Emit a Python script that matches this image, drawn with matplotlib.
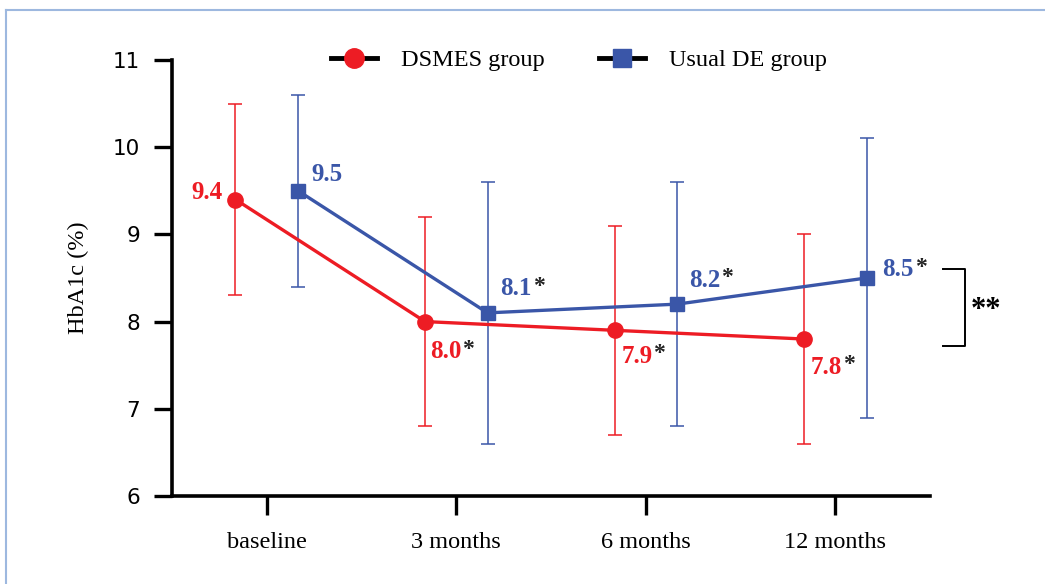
import matplotlib.pyplot as plt
from matplotlib.lines import Line2D

plt.rcParams['font.family'] = 'DejaVu Sans'

timepoints = ['baseline', '3 months', '6 months', '12 months']

dsmes_mean = [9.4, 8.0, 7.9, 7.8]
dsmes_low = [8.3, 6.8, 6.7, 6.6]
dsmes_high = [10.5, 9.2, 9.1, 9.0]
dsmes_labels = ['9.4', '8.0', '7.9', '7.8']
dsmes_star = ['', '*', '*', '*']

usual_mean = [9.5, 8.1, 8.2, 8.5]
usual_low = [8.4, 6.6, 6.8, 6.9]
usual_high = [10.6, 9.6, 9.6, 10.1]
usual_labels = ['9.5', '8.1', '8.2', '8.5']
usual_star = ['', '*', '*', '*']

red = '#ED1C24'
blue = '#3A56A8'
serif = 'Liberation Serif'

fig = plt.figure(figsize=(10.45, 5.84), dpi=100)
ax = fig.add_axes([0.1646, 0.1507, 0.7254, 0.7466])

x = list(range(len(timepoints)))
off = 0.165
xr = [i - off for i in x]
xb = [i + off for i in x]

ax.errorbar(xr, dsmes_mean,
            yerr=[[m - l for m, l in zip(dsmes_mean, dsmes_low)],
                  [h - m for m, h in zip(dsmes_mean, dsmes_high)]],
            color=red, lw=2.4, marker='o', ms=11, ecolor=red, elinewidth=1.1,
            capsize=5, capthick=1.1, zorder=3)
ax.errorbar(xb, usual_mean,
            yerr=[[m - l for m, l in zip(usual_mean, usual_low)],
                  [h - m for m, h in zip(usual_mean, usual_high)]],
            color=blue, lw=2.4, marker='s', ms=9.5, ecolor=blue, elinewidth=1.1,
            capsize=5, capthick=1.1, zorder=3)

# label offsets in pixels (ha, va centre)
red_off = [(-13, 7), (5, -30), (7, -26), (7, -28)]
blue_off = [(13, 16), (13, 24), (12, 24), (16, 8)]


def put_label(xp, yp, txt, star, dxy, col, ha):
    t = ax.annotate(txt, (xp, yp), xytext=dxy, textcoords='offset pixels',
                    color=col, fontsize=18, fontweight='bold', family=serif,
                    ha=ha, va='center')
    if star:
        ax.annotate(star, xy=(1, 1), xycoords=t, xytext=(0.5, 1),
                    textcoords='offset points', color='#222222', fontsize=17,
                    fontweight='bold', family=serif, va='top', ha='left')


for i in range(4):
    put_label(xr[i], dsmes_mean[i], dsmes_labels[i], dsmes_star[i], red_off[i],
              red, 'right' if i == 0 else 'left')
    put_label(xb[i], usual_mean[i], usual_labels[i], usual_star[i], blue_off[i],
              blue, 'left')

# significance bracket
ax.plot([3.57, 3.685, 3.685, 3.57], [8.6, 8.6, 7.72, 7.72], color='black',
        lw=1.4, clip_on=False)
ax.text(3.715, 8.13, '**', fontsize=22, fontweight='bold', family=serif,
        va='center', ha='left')

ax.set_xlim(-0.5, 3.5)
ax.set_ylim(6, 11)
ax.set_yticks([6, 7, 8, 9, 10, 11])
ax.set_xticks(x)
ax.set_xticklabels(timepoints, family=serif, fontsize=17.5)
ax.tick_params(axis='x', length=14, width=2.4, pad=12)
ax.tick_params(axis='y', length=13, width=2.4, labelsize=15.5, pad=10)
for s in ['top', 'right']:
    ax.spines[s].set_visible(False)
for s in ['left', 'bottom']:
    ax.spines[s].set_linewidth(2.6)
ax.set_ylabel('HbA1c (%)', family=serif, fontsize=17.5, labelpad=17)

handles = [
    Line2D([0], [0], color='black', lw=3.5, marker='o', ms=14, mfc=red, mec=red),
    Line2D([0], [0], color='black', lw=3.5, marker='s', ms=12.5, mfc=blue, mec=blue),
]
ax.legend(handles, ['DSMES group', 'Usual DE group'], loc='upper center',
          bbox_to_anchor=(0.537, 1.075), ncol=2, frameon=False,
          prop={'family': serif, 'size': 17.5}, handlelength=1.9,
          columnspacing=2.2, handletextpad=1.0)

# light frame at top and left
fig.add_artist(Line2D([0.006, 1.0], [0.983, 0.983], color='#9DB8DF', lw=1.5))
fig.add_artist(Line2D([0.006, 0.006], [0.0, 0.983], color='#9DB8DF', lw=1.5))

fig.savefig('out.png', dpi=100)
